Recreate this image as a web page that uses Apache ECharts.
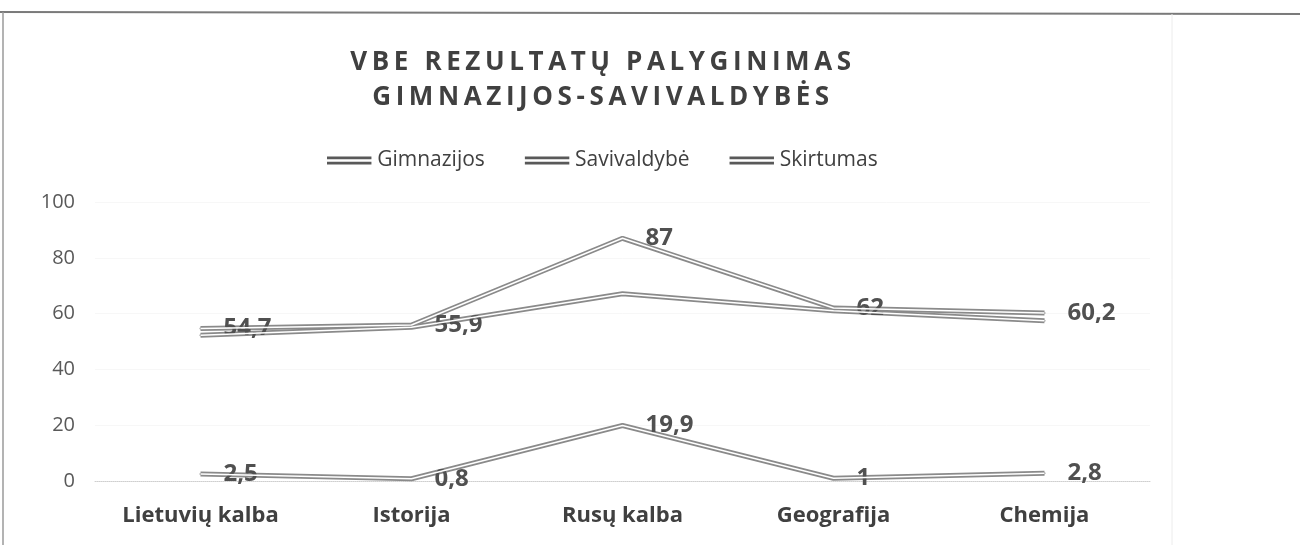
<!DOCTYPE html>
<html>
<head>
<meta charset="utf-8">
<script src="https://cdn.jsdelivr.net/npm/echarts@6/dist/echarts.min.js"></script>
<style>
  html, body { margin: 0; padding: 0; background: #fff; }
  #wrap { position: relative; width: 1300px; height: 545px; }
  #chart { width: 1300px; height: 545px; }
  #title {
    position: absolute; left: 0; top: 43px; width: 1206px;
    text-align: center; font-family: "Open Sans", sans-serif; font-weight: 700;
    font-size: 26px; line-height: 35px; letter-spacing: 4.6px; color: #404040;
  }
</style>
</head>
<body>
<div id="wrap">
  <div id="chart"></div>
  <div id="title">VBE REZULTATŲ PALYGINIMAS<br>GIMNAZIJOS-SAVIVALDYBĖS</div>
</div>
<script>
// duomenys
const categories = ['Lietuvių kalba', 'Istorija', 'Rusų kalba', 'Geografija', 'Chemija'];
const gimnazijos = [54.7, 55.9, 87, 62, 60.2];
const savivaldybe = [52.2, 55.1, 67.1, 61, 57.4];
const skirtumas = [2.5, 0.8, 19.9, 1, 2.8];
const yTicks = [0, 20, 40, 60, 80, 100];

const seriesList = [
  { name: 'Gimnazijos', data: gimnazijos, label: true },
  { name: 'Savivaldybė', data: savivaldybe, label: false },
  { name: 'Skirtumas', data: skirtumas, label: true }
];

const chart = echarts.init(document.getElementById('chart'));

const fmt = p => String(p.value).replace('.', ',');

// dviguba linija: stora pilka + plona balta viduryje
let series = [];
seriesList.forEach(s => {
  series.push({
    name: s.name,
    type: 'line',
    data: s.data,
    symbol: 'circle',
    symbolSize: 2,
    showSymbol: true,
    z: 2,
    lineStyle: { color: '#8a8a8a', width: 5 },
    itemStyle: { color: '#8a8a8a' },
    label: {
      show: s.label,
      position: 'right',
      distance: 22,
      formatter: fmt,
      fontFamily: 'Open Sans',
      fontWeight: 'bold',
      fontSize: 24,
      color: '#505050'
    },
    labelLayout: { hideOverlap: false }
  });
  series.push({
    name: s.name + ' vidus',
    type: 'line',
    data: s.data,
    symbol: 'none',
    silent: true,
    z: 3,
    lineStyle: { color: '#ffffff', width: 1.5 },
    itemStyle: { color: '#ffffff' }
  });
});

chart.setOption({
  animation: false,
  textStyle: { fontFamily: 'Open Sans' },
  legend: {
    data: seriesList.map(s => ({ name: s.name, itemStyle: { color: '#595959' } })),
    left: 322,
    top: 145,
    icon: 'path://M0,0H50V3H0Z M0,6H50V9H0Z',
    itemWidth: 46,
    itemHeight: 8,
    itemGap: 40,
    textStyle: { fontSize: 21, color: '#404040', fontFamily: 'Open Sans' }
  },
  grid: { left: 95, right: 150, top: 202, bottom: 64 },
  xAxis: {
    type: 'category',
    data: categories,
    boundaryGap: true,
    axisLine: { lineStyle: { color: '#cfcfcf', type: 'dotted' } },
    axisTick: { show: false },
    axisLabel: {
      margin: 24,
      fontSize: 22,
      fontWeight: 'bold',
      color: '#404040',
      fontFamily: 'Open Sans'
    },
    splitLine: { show: false }
  },
  yAxis: {
    type: 'value',
    min: yTicks[0],
    max: yTicks[yTicks.length - 1],
    interval: 20,
    axisLine: { show: false },
    axisTick: { show: false },
    axisLabel: { margin: 20, fontSize: 20, color: '#595959', fontFamily: 'Open Sans' },
    splitLine: { show: true, lineStyle: { color: '#f7f7f7' } }
  },
  graphic: [
    { type: 'line', shape: { x1: 0, y1: 12, x2: 1300, y2: 14 }, style: { stroke: '#7a7a7a', lineWidth: 2 } },
    { type: 'line', shape: { x1: 3, y1: 12, x2: 3, y2: 545 }, style: { stroke: '#9a9a9a', lineWidth: 1.5 } },
    { type: 'line', shape: { x1: 1172, y1: 14, x2: 1172, y2: 545 }, style: { stroke: '#ececec', lineWidth: 1 } }
  ],
  series: series
});
</script>
</body>
</html>
